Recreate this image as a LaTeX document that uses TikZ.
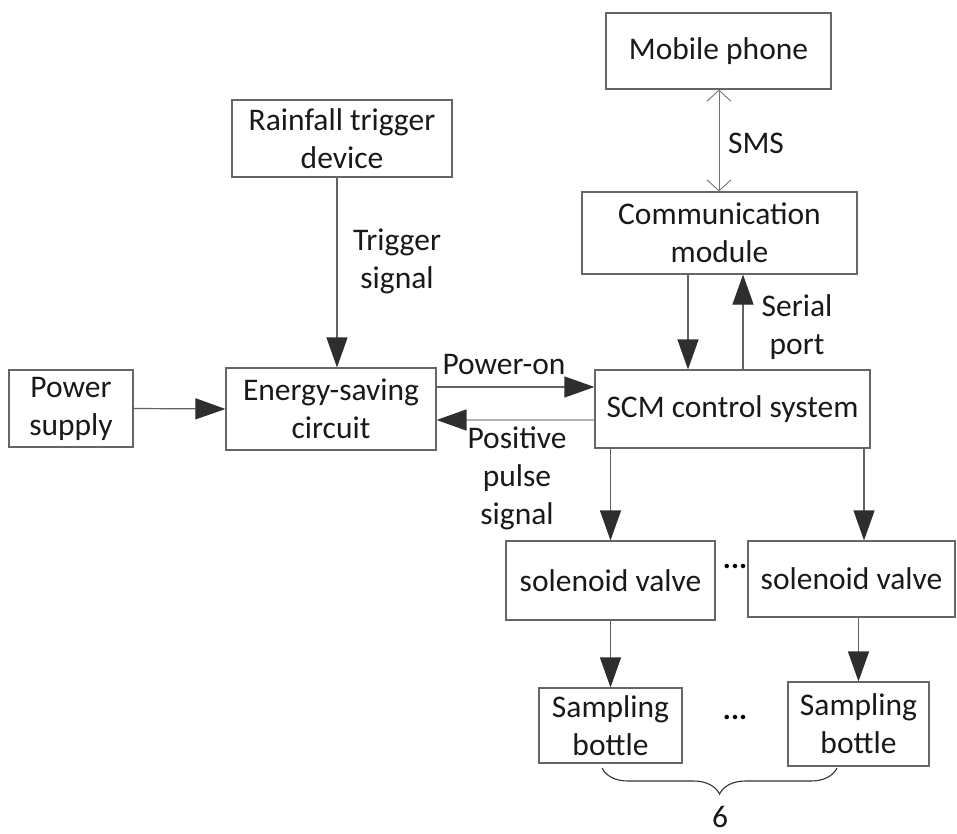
\documentclass[tikz,border=0pt]{standalone}
\usepackage{fontspec}
\setmainfont{Carlito}
\usetikzlibrary{arrows.meta,decorations.pathreplacing,calc}
\newcommand\dfont{\fontsize{31.5}{38}\selectfont}
\tikzset{
  box/.style={draw=black!60, line width=1.2pt, inner sep=0pt, align=center, font=\dfont, text=black!90},
  arr/.style={draw=black!62, line width=1.2pt, -{Triangle[length=30pt,width=21pt,color=black!82]}},
  lightarr/.style={draw=black!30, line width=1.6pt, -{Triangle[length=30pt,width=21pt,color=black!82]}},
  barb/.style={draw=black!55, line width=0.9pt, {Straight Barb[length=11pt,width=24pt]}-{Straight Barb[length=11pt,width=24pt]}},
  lbl/.style={align=center, font=\dfont, text=black!90, inner sep=0pt},
  dots/.style={font=\bfseries\fontsize{30}{30}\selectfont, inner sep=0pt}
}
\begin{document}
\begin{tikzpicture}[x=1pt,y=-1pt]
\useasboundingbox (0,0) rectangle (957,834);
% boxes
\node[box, minimum width=225pt, minimum height=76pt] (phone) at (718.5,51) {Mobile phone};
\node[box, minimum width=275pt, minimum height=82pt] (comm) at (719.5,233) {Communication\\module};
\node[box, minimum width=220pt, minimum height=77pt] (rain) at (342,138.5) {Rainfall trigger\\device};
\node[box, minimum width=124pt, minimum height=77pt] (power) at (71,408.5) {Power\\supply};
\node[box, minimum width=210pt, minimum height=82pt] (energy) at (331,409) {Energy-saving\\circuit};
\node[box, minimum width=275pt, minimum height=78pt] (scm) at (732.5,409) {SCM control system};
\node[box, minimum width=209pt, minimum height=79pt] (sv1) at (610.5,580.5) {solenoid valve};
\node[box, minimum width=207pt, minimum height=76pt] (sv2) at (851.5,579) {solenoid valve};
\node[box, minimum width=143pt, minimum height=75pt] (sb1) at (610.5,725.5) {Sampling\\bottle};
\node[box, minimum width=141pt, minimum height=84pt] (sb2) at (858.5,724) {Sampling\\bottle};
% connectors
\draw[barb] (phone.south -| 719,0) -- (comm.north -| 719,0);
\draw[arr] (rain.south -| 337,0) -- (energy.north -| 337,0);
\draw[arr] (power.east) -- (energy.west);
\draw[arr] (energy.east |- 0,387) -- (scm.west |- 0,387);
\draw[lightarr] (scm.west |- 0,420) -- (energy.east |- 0,420);
\draw[arr] (comm.south -| 688,0) -- (scm.north -| 688,0);
\draw[arr] (scm.north -| 743,0) -- (comm.south -| 743,0);
\draw[arr] (scm.south -| sv1.north) -- (sv1.north);
\draw[arr] (scm.south -| 864,0) -- (sv2.north -| 864,0);
\draw[arr] (sv1.south) -- (sb1.north);
\draw[arr] (sv2.south -| sb2.north) -- (sb2.north);
% labels
\node[lbl] (lsms) at (756,143) {SMS};
\node[lbl] (ltrig) at (397,261) {Trigger\\signal};
\node[lbl] (lpow) at (504,364) {Power-on};
\node[lbl] (lpulse) at (517,478) {Positive\\pulse\\signal};
\node[lbl] (lser) at (797,327) {Serial\\port};
\node[dots] (d1) at (735,566) {...};
\node[dots] (d2) at (735,717) {...};
% brace
\coordinate (bl) at (602,768);
\coordinate (br) at (837,768);
\draw[black!80, line width=1.1pt, decorate, decoration={brace, amplitude=26pt, mirror}] (bl) -- (br);
\node[lbl] (six) at (720,817) {6};
\end{tikzpicture}
\end{document}
